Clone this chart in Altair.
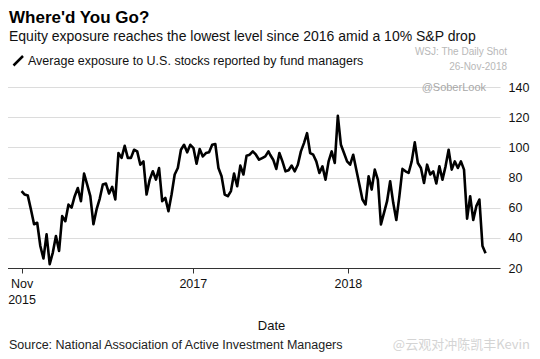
import altair as alt
import pandas as pd

FONT = "Liberation Sans"

TITLE = "Where'd You Go?"
SUBTITLE = "Equity exposure reaches the lowest level since 2016 amid a 10% S&P drop"
LEGEND_LABEL = "Average exposure to U.S. stocks reported by fund managers"
SOURCE = "Source: National Association of Active Investment Managers"
CREDIT_1 = "WSJ: The Daily Shot"
CREDIT_2 = "26-Nov-2018"
CREDIT_3 = "@SoberLook"
WATERMARK = "@云观对冲陈凯丰Kevin"

y_ticks = [20, 40, 60, 80, 100, 120, 140]
x_ticks = [(2015, 11, 25), (2017, 1, 1), (2018, 1, 1)]
x_domain = [(2015, 10, 17), (2018, 12, 25)]

# Average NAAIM exposure (late Nov 2015 -> end of Jun 2017)
values_a = [71, 68.7, 68, 58.8, 49, 50, 34.6, 26.3, 42.3, 22.5, 30.2, 41.2, 31.3,
            54.4, 51, 62, 60, 67.6, 73, 64.3, 82.6, 75.3, 67.6, 49, 58.8, 65.9,
            75.3, 76, 69.4, 73.8, 65.4, 96.2, 93, 101, 93, 93, 98.4, 97.3, 88.5,
            90.7, 68.7, 78.6, 84.1, 78.6, 86.3, 64.3, 66.5, 57.7, 68.7, 82, 86.3,
            98.4, 101.7, 96.7, 101.7, 99.5, 89.2, 98.9, 94, 96.2, 96.7, 101.7,
            102.2, 86.3, 80.8, 68.7, 67.6, 71, 82.6, 74.2, 87.9, 82, 94.5, 95.1,
            97.3, 95.1, 91.8, 92.9, 94, 97.3]
# (Jul 2017 -> Nov 2018)
values_b = [95.1, 91.8, 85.7, 96.2, 90.7, 84.1, 84.8, 87.9, 84.1, 88.5, 97.3, 102.8,
            109.4, 96.2, 95.1, 90.7, 83, 87.4, 78.6, 90.7, 97.3, 89.6, 120.9, 101.7,
            96.2, 90.7, 88.5, 95.1, 85.2, 75.3, 65.4, 62.1, 80.8, 72, 85.2, 78.6,
            48.9, 56.6, 64.3, 77.5, 63.2, 51.8, 67.6, 85.7, 84.1, 83, 90.7, 103.3,
            89.6, 86.3, 76.4, 88.5, 82, 84.1, 76, 87.4, 78.6, 87.4, 98.4, 85.2,
            90.7, 86.3, 90.7, 85.2, 52.7, 67.6, 51.8, 61, 65.4, 34.6, 29.8]

dates_a = pd.date_range("2015-11-25", "2017-06-28", periods=len(values_a))
dates_b = pd.date_range("2017-07-02", "2018-11-21", periods=len(values_b))

df = pd.DataFrame({
    "date": list(dates_a) + list(dates_b),
    "value": values_a + values_b,
})


def dt(t):
    return alt.DateTime(year=t[0], month=t[1], date=t[2])


line = alt.Chart(df).mark_line(color="#000000", strokeWidth=2.6, strokeJoin="round").encode(
    x=alt.X(
        "date:T",
        scale=alt.Scale(domain=[dt(d) for d in x_domain]),
        axis=alt.Axis(
            values=[dt(d) for d in x_ticks],
            labelExpr="year(datum.value) == 2015 ? ['Nov', '2015'] : timeFormat(datum.value, '%Y')",
            labelFlush=False,
            labelFontSize=12.5,
            labelColor="#111111",
            labelPadding=4,
            labelLineHeight=16,
            tickSize=5,
            tickColor="#333333",
            domainColor="#333333",
            domainWidth=1,
            grid=False,
            title="Date",
            titleFontSize=13,
            titleFontWeight="normal",
            titleColor="#111111",
            titleX=266,
            titleY=61,
            titleAlign="center",
            titleBaseline="alphabetic",
        ),
    ),
    y=alt.Y(
        "value:Q",
        scale=alt.Scale(domain=[20, 140], nice=False, zero=False),
        axis=alt.Axis(
            orient="right",
            values=y_ticks,
            title=None,
            domain=False,
            ticks=False,
            labelPadding=8,
            labelFontSize=12.5,
            labelColor="#111111",
            gridColor="#dcdcdc",
            gridWidth=1,
        ),
    ),
)


def text(t, x, y, size, color, weight="normal", align="left"):
    return alt.Chart(alt.Data(values=[{}])).mark_text(
        text=t, font=FONT, fontSize=size, color=color, fontWeight=weight,
        align=align, baseline="alphabetic",
    ).encode(x=alt.value(x), y=alt.value(y))


slash = alt.Chart(alt.Data(values=[{}])).mark_rule(color="#000000", strokeWidth=2.5).encode(
    x=alt.value(8.5), y=alt.value(-21.5), x2=alt.value(18), y2=alt.value(-31)
)

layers = [
    line,
    text(TITLE, 4, -64, 17, "#000000", weight="bold"),
    text(SUBTITLE, 4, -46, 14, "#111111"),
    slash,
    text(LEGEND_LABEL, 23, -22.5, 12.5, "#111111"),
    text(CREDIT_1, 502, -32, 10, "#b8b8b8", align="right"),
    text(CREDIT_2, 502, -17, 10, "#b8b8b8", align="right"),
    text(CREDIT_3, 481, 4, 11, "#a8a8a8", align="right"),
    text(SOURCE, 4, 262, 12.5, "#222222"),
    alt.Chart(alt.Data(values=[{}])).mark_text(
        text=WATERMARK, font="Noto Sans CJK SC", fontSize=13, color="#d4d4d4",
        align="right", baseline="alphabetic",
    ).encode(x=alt.value(525), y=alt.value(262)),
]

chart = alt.layer(*layers).properties(
    width=495,
    height=181,
    autosize=alt.AutoSizeParams(type="none"),
    padding={"left": -3, "top": 79, "right": 32, "bottom": 86},
).configure_view(stroke=None).configure_axis(labelFont=FONT, titleFont=FONT)

chart.save("out.html", embed_options={"renderer": "svg", "actions": False})
